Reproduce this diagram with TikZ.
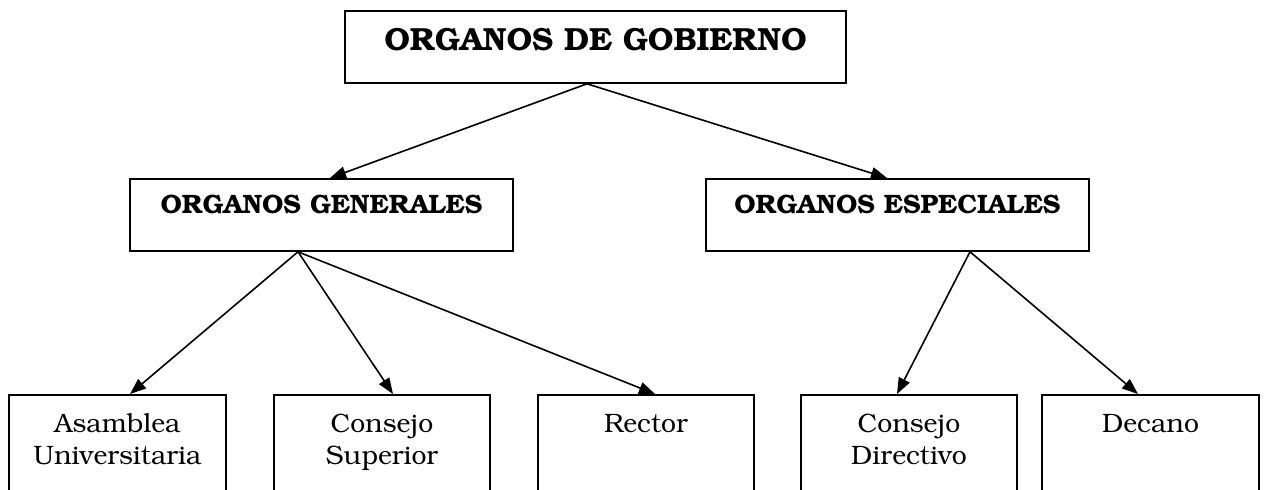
\documentclass[tikz,border=0pt]{standalone}
\usepackage[T1]{fontenc}
\usepackage{bookman}
\usepackage{tikz}
\usetikzlibrary{arrows.meta}

\begin{document}
\begin{tikzpicture}[x=0.5pt, y=-0.5pt,
        caja/.style={draw, line width=0.9pt, anchor=north, inner ysep=0pt},
        titulo/.style={caja, font=\fontsize{16}{19}\selectfont\bfseries,
                text height=20pt, text depth=16pt},
        grupo/.style={caja, font=\fontsize{13.3}{16}\selectfont\bfseries,
                text height=17.5pt, text depth=18.5pt},
        organo/.style={caja, font=\fontsize{13.3}{16}\selectfont, align=center,
                text height=19pt, text depth=80pt},
        doble/.style={organo, text height=35pt},
        flecha/.style={line width=0.8pt, -{Triangle[length=8pt,width=6pt]}}]
        \clip (0,0) rectangle (1264,489);
        \useasboundingbox (0,0) rectangle (1264,489);
        \node (g0) [titulo, minimum width=250.5pt] at (595.5, 10) {ORGANOS DE GOBIERNO};
        \node (g1) [grupo, minimum width=191.5pt] at (321.5, 178) {ORGANOS GENERALES};
        \node (g2) [grupo, minimum width=191.5pt] at (897.5, 178) {ORGANOS ESPECIALES};
        \node (o1) [doble, minimum width=108.5pt] at (117.5, 394) {Asamblea\\Universitaria};
        \node (o2) [doble, minimum width=108pt] at (382, 394) {Consejo\\Superior};
        \node (o3) [organo, minimum width=108pt] at (646, 394) {Rector};
        \node (o4) [doble, minimum width=108pt] at (909, 394) {Consejo\\Directivo};
        \node (o5) [organo, minimum width=108.5pt] at (1150.5, 394) {Decano};
        \draw [flecha] ([xshift=-4.25pt]g0.south) -- ([xshift=4.25pt]g1.north);
        \draw [flecha] ([xshift=-4.25pt]g0.south) -- ([xshift=-5.25pt]g2.north);
        \draw [flecha] ([xshift=-11.75pt]g1.south) -- ([xshift=6.25pt]o1.north);
        \draw [flecha] ([xshift=-11.75pt]g1.south) -- ([xshift=5.5pt]o2.north);
        \draw [flecha] ([xshift=-11.75pt]g1.south) -- ([xshift=4.5pt]o3.north);
        \draw [flecha] ([xshift=36.25pt]g2.south) -- ([xshift=-6pt]o4.north);
        \draw [flecha] ([xshift=36.25pt]g2.south) -- ([xshift=-6.25pt]o5.north);
\end{tikzpicture}
\end{document}
